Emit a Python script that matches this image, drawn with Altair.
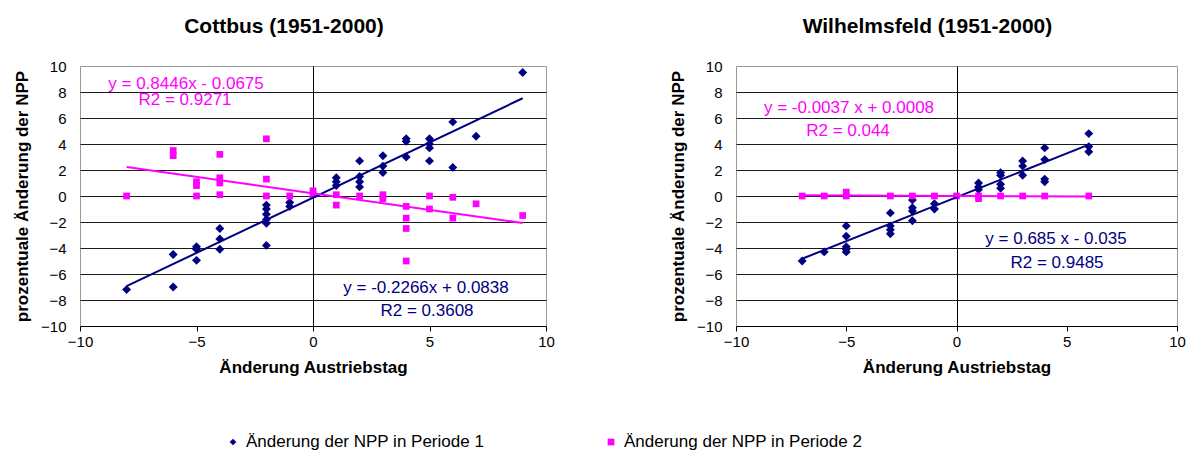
import altair as alt
import pandas as pd

FONT = "Liberation Sans"

SERIES = ["Änderung der NPP in Periode 1", "Änderung der NPP in Periode 2"]
SERIES_COLORS = ["#000080", "#FF00FF"]
SERIES_SHAPES = ["diamond", "square"]

PANEL_TITLES = ["Cottbus (1951-2000)", "Wilhelmsfeld (1951-2000)"]
X_TITLE = "Änderung Austriebstag"
Y_TITLE = "prozentuale Änderung der NPP"
X_TICKS = [-10, -5, 0, 5, 10]
Y_TICKS = [-10, -8, -6, -4, -2, 0, 2, 4, 6, 8, 10]

# Cottbus, Periode 1 (diamonds)
cottbus_p1_x = [-8, -6, -6, -5, -5, -5, -4, -4, -4, -2, -2, -2, -2, -2, -2, -1, -1,
                1, 1, 1, 2, 2, 2, 2, 3, 3, 3, 4, 4, 4, 5, 5, 5, 5, 6, 6, 7, 9]
cottbus_p1_y = [-7.2, -4.5, -7.0, -3.9, -4.1, -4.95, -2.5, -3.3, -4.1, -0.7, -1.0, -1.4, -1.8, -2.1, -3.8, -0.5, -0.8,
                1.4, 1.1, 0.8, 2.7, 1.5, 1.1, 0.7, 3.1, 2.3, 1.8, 4.4, 4.2, 3.0, 4.4, 4.0, 3.7, 2.7, 5.7, 2.2, 4.6, 9.5]
# Cottbus, Periode 2 (squares)
cottbus_p2_x = [-8, -6, -6, -5, -5, -5, -4, -4, -4, -4, -2, -2, -2, -1, 0, 0,
                1, 1, 2, 3, 3, 4, 4, 4, 4, 5, 5, 6, 6, 7, 9]
cottbus_p2_y = [0.0, 3.5, 3.1, 1.1, 0.8, 0.0, 3.2, 1.4, 1.0, 0.1, 4.4, 1.3, 0.0, 0.0, 0.4, 0.1,
                0.1, -0.7, 0.0, 0.1, -0.2, -0.8, -1.7, -2.5, -5.0, 0.0, -1.0, -0.1, -1.7, -0.6, -1.5]

# Wilhelmsfeld, Periode 1 (diamonds)
wilhelm_p1_x = [-7, -6, -5, -5, -5, -5, -5, -3, -3, -3, -3, -2, -2, -2, -2, -1, -1,
                1, 1, 1, 2, 2, 2, 2, 3, 3, 3, 4, 4, 4, 4, 6, 6, 6]
wilhelm_p1_y = [-5.0, -4.3, -2.3, -3.1, -3.9, -4.1, -4.3, -1.3, -2.3, -2.6, -2.9, -0.3, -0.9, -1.15, -1.9, -0.6, -1.0,
                1.0, 0.7, 0.5, 1.8, 1.6, 0.9, 0.6, 2.7, 2.3, 1.6, 3.7, 2.8, 1.3, 1.1, 4.8, 3.8, 3.4]
# Wilhelmsfeld, Periode 2 (squares)
wilhelm_p2_x = [-7, -6, -5, -5, -3, -2, -1, 0, 1, 1, 2, 3, 4, 6]
wilhelm_p2_y = [0.0, 0.0, 0.0, 0.3, 0.0, 0.0, 0.0, 0.0, 0.0, -0.2, 0.0, 0.0, 0.0, 0.0]

# Trend-line equation labels (as printed in the chart)
cottbus_eq = ["y = 0.8446x - 0.0675", "R2 = 0.9271", "y = -0.2266x  + 0.0838", "R2 = 0.3608"]
wilhelm_eq = ["y = -0.0037 x + 0.0008", "R2 = 0.044", "y = 0.685 x - 0.035", "R2 = 0.9485"]


def make_df(p1x, p1y, p2x, p2y):
    return pd.DataFrame({
        "x": p1x + p2x,
        "y": p1y + p2y,
        "series": [SERIES[0]] * len(p1x) + [SERIES[1]] * len(p2x),
    })


color_scale = alt.Scale(domain=SERIES, range=SERIES_COLORS)
shape_scale = alt.Scale(domain=SERIES, range=SERIES_SHAPES)

xenc = alt.X("x:Q",
             scale=alt.Scale(domain=[-10, 10], nice=False, zero=False),
             axis=alt.Axis(values=X_TICKS, title=X_TITLE, grid=True, labelFlush=False,
                           gridColor=alt.condition("datum.value === 0", alt.value("#000000"), alt.value("transparent")),
                           gridWidth=1, domainColor="#000000", tickColor="#000000", tickSize=5,
                           labelFontSize=15, labelPadding=3, titlePadding=10, titleFontSize=17))
yenc = alt.Y("y:Q",
             scale=alt.Scale(domain=[-10, 10], nice=False, zero=False),
             axis=alt.Axis(values=Y_TICKS, title=Y_TITLE, grid=True, labelFlush=False,
                           gridColor=alt.condition("abs(datum.value) === 10", alt.value("transparent"), alt.value("#1a1a1a")),
                           gridWidth=1, domain=False, ticks=False,
                           labelFontSize=15, labelPadding=14, titlePadding=9, titleFontSize=17))


def text_label(text, color, px, py):
    return alt.Chart(pd.DataFrame({"t": [text]})).mark_text(
        align="center", baseline="alphabetic", fontSize=17, font=FONT, color=color
    ).encode(text="t:N", x=alt.value(px), y=alt.value(py))


def panel(df, title, width, eqs, pos):
    pts = alt.Chart(df).mark_point(filled=True, opacity=1, strokeWidth=0).encode(
        x=xenc, y=yenc,
        color=alt.Color("series:N", scale=color_scale, legend=None),
        shape=alt.Shape("series:N", scale=shape_scale, legend=None),
        size=alt.Size("series:N", scale=alt.Scale(domain=SERIES, range=[80, 45]), legend=None),
    )
    lines = alt.Chart(df).transform_regression("x", "y", groupby=["series"]).mark_line(strokeWidth=2).encode(
        x=xenc, y=yenc,
        stroke=alt.Stroke("series:N", scale=color_scale, legend=None),
    )
    label_colors = [SERIES_COLORS[1], SERIES_COLORS[1], SERIES_COLORS[0], SERIES_COLORS[0]]
    labels = [text_label(t, c, p[0], p[1]) for t, c, p in zip(eqs, label_colors, pos)]
    return alt.layer(pts, lines, *labels).properties(
        width=width, height=260,
        title=alt.TitleParams(text=title, fontSize=21, font=FONT, fontWeight="bold", color="#000000",
                              anchor="middle", frame="bounds", offset=22),
    )


left = panel(make_df(cottbus_p1_x, cottbus_p1_y, cottbus_p2_x, cottbus_p2_y), PANEL_TITLES[0], 466,
             cottbus_eq, [(106, 23), (105, 39), (346, 227), (347, 250)])
right = panel(make_df(wilhelm_p1_x, wilhelm_p1_y, wilhelm_p2_x, wilhelm_p2_y), PANEL_TITLES[1], 441,
              wilhelm_eq, [(113, 47), (112, 70), (320, 178), (321, 202)])

# Legend row (drawn through a point scale over the series names)
legend_df = pd.DataFrame({"series": SERIES})
legend_x = alt.X("series:N", scale=alt.Scale(type="point", domain=SERIES, range=[153, 531], padding=0), axis=None)
legend_pts = alt.Chart(legend_df).mark_point(filled=True, opacity=1, strokeWidth=0, size=45).encode(
    x=legend_x,
    color=alt.Color("series:N", scale=color_scale, legend=None),
    shape=alt.Shape("series:N", scale=shape_scale, legend=None),
)
legend_txt = alt.Chart(legend_df).mark_text(align="left", baseline="middle", dx=13, fontSize=17,
                                            font=FONT, color="#000000").encode(
    x=legend_x, text="series:N",
)
legend_row = alt.layer(legend_pts, legend_txt).properties(
    width=800, height=16, view=alt.ViewConfig(stroke="transparent")
)

top = alt.hconcat(left, right, spacing=114)
chart = alt.vconcat(top, legend_row, spacing=56).resolve_scale(color="shared", shape="shared").properties(
    padding={"left": 5, "top": 7, "right": 5, "bottom": 5}
).configure(font=FONT).configure_view(stroke="#999999", strokeWidth=1).configure_axis(
    labelFont=FONT, titleFont=FONT, labelColor="#000000", titleColor="#000000", titleFontWeight="bold"
)

chart.save("out.html", embed_options={"renderer": "svg", "actions": False})
